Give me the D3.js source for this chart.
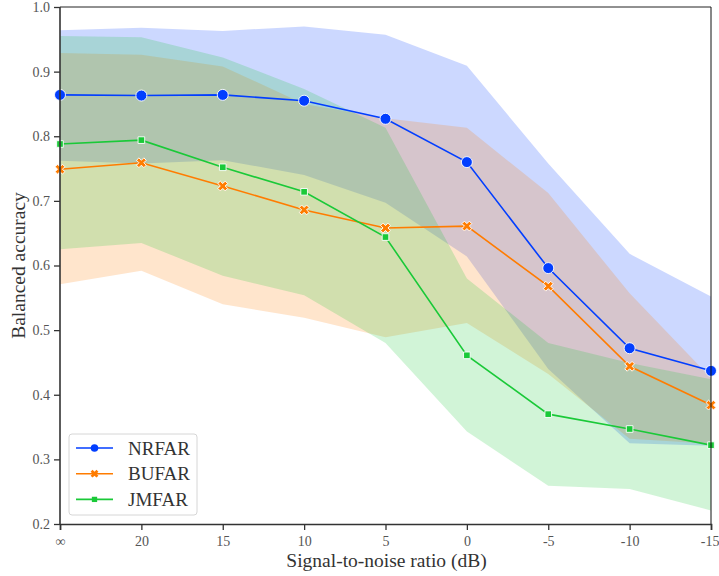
<!DOCTYPE html>
<html>
<head>
<meta charset="utf-8">
<script src="https://cdn.jsdelivr.net/npm/d3@7"></script>
<style>
  body { margin: 0; background: #fff; }
  svg { display: block; }
  text { font-family: "Liberation Serif", "DejaVu Serif", serif; }
</style>
</head>
<body>
<svg id="chart" width="719" height="576"></svg>
<script>
// SNR categories (x axis), left to right
const snr = ["∞", "20", "15", "10", "5", "0", "-5", "-10", "-15"];
const yTicks = [0.2, 0.3, 0.4, 0.5, 0.6, 0.7, 0.8, 0.9, 1.0];

// mean balanced accuracy and shaded band edges
const nrfarMean = [0.864, 0.863, 0.864, 0.855, 0.827, 0.760, 0.596, 0.472, 0.437];
const nrfarLow  = [0.762, 0.758, 0.763, 0.740, 0.697, 0.614, 0.440, 0.325, 0.321];
const nrfarHigh = [0.964, 0.968, 0.963, 0.970, 0.957, 0.909, 0.758, 0.618, 0.552];

const bufarMean = [0.749, 0.759, 0.723, 0.686, 0.658, 0.661, 0.568, 0.444, 0.384];
const bufarLow  = [0.571, 0.592, 0.540, 0.519, 0.489, 0.511, 0.432, 0.332, 0.324];
const bufarHigh = [0.929, 0.926, 0.908, 0.850, 0.828, 0.813, 0.712, 0.557, 0.426];

const jmfarMean = [0.788, 0.794, 0.752, 0.714, 0.644, 0.461, 0.370, 0.347, 0.322];
const jmfarLow  = [0.625, 0.635, 0.584, 0.554, 0.480, 0.343, 0.259, 0.254, 0.221];
const jmfarHigh = [0.955, 0.953, 0.922, 0.873, 0.813, 0.580, 0.480, 0.449, 0.424];

const seriesNames = ["NRFAR", "BUFAR", "JMFAR"];
const colors = ["#023eff", "#ff7c00", "#1ac938"];   // seaborn "bright"

const series = [
  { name: seriesNames[0], mean: nrfarMean, lo: nrfarLow, hi: nrfarHigh, color: colors[0], marker: "circle" },
  { name: seriesNames[1], mean: bufarMean, lo: bufarLow, hi: bufarHigh, color: colors[1], marker: "x" },
  { name: seriesNames[2], mean: jmfarMean, lo: jmfarLow, hi: jmfarHigh, color: colors[2], marker: "square" },
];

const svg = d3.select("#chart");
const m = { left: 60, right: 8, top: 7, bottom: 52 };
const W = 719, H = 576;

const x = d3.scalePoint().domain(snr).range([m.left, W - m.right]).padding(0);
const y = d3.scaleLinear().domain([0.2, 1.0]).range([H - m.bottom, m.top]);

// bands first (matplotlib puts fills under all lines)
const area = d3.area()
  .x((d, i) => x(snr[i]))
  .y0(d => y(d[0]))
  .y1(d => y(d[1]));

svg.append("g").attr("class", "bands")
  .selectAll("path")
  .data(series)
  .join("path")
  .attr("d", s => area(s.lo.map((v, i) => [v, s.hi[i]])))
  .attr("fill", s => s.color)
  .attr("fill-opacity", 0.2);

const line = d3.line().x((d, i) => x(snr[i])).y(d => y(d));

function markerPath(kind, big) {
  if (kind === "circle") return d3.symbol(d3.symbolCircle, big ? 95 : 45)();
  if (kind === "square") return d3.symbol(d3.symbolSquare, big ? 44 : 28)();
  return d3.symbol(d3.symbolCross, big ? 60 : 38)();
}

const lines = svg.append("g").attr("class", "lines");
series.forEach(s => {
  lines.append("path")
    .attr("d", line(s.mean))
    .attr("fill", "none")
    .attr("stroke", s.color)
    .attr("stroke-width", 1.6);
});
series.forEach(s => {
  lines.append("g")
    .selectAll("path")
    .data(s.mean)
    .join("path")
    .attr("d", markerPath(s.marker, true))
    .attr("transform", (d, i) => `translate(${x(snr[i])},${y(d)})` + (s.marker === "x" ? " rotate(45)" : ""))
    .attr("fill", s.color)
    .attr("stroke", "#fff")
    .attr("stroke-width", 0.9);
});

// frame: thin top/right, heavier left/bottom (spines sit above the lines)
svg.append("line").attr("x1", m.left).attr("x2", W - m.right).attr("y1", m.top).attr("y2", m.top)
  .attr("stroke", "#222").attr("stroke-width", 1);
svg.append("line").attr("x1", W - m.right).attr("x2", W - m.right).attr("y1", m.top).attr("y2", H - m.bottom)
  .attr("stroke", "#111").attr("stroke-width", 1);

// axes
const axisColor = "#333";
const gx = svg.append("g")
  .attr("transform", `translate(0,${H - m.bottom})`)
  .call(d3.axisBottom(x).tickSizeOuter(0).tickSize(6).tickPadding(6));
const gy = svg.append("g")
  .attr("transform", `translate(${m.left},0)`)
  .call(d3.axisLeft(y).tickValues(yTicks).tickFormat(d3.format(".1f")).tickSizeOuter(0).tickSize(6).tickPadding(4));

[gx, gy].forEach(g => {
  g.select(".domain").attr("stroke", axisColor).attr("stroke-width", 1.6);
  g.selectAll(".tick line").attr("stroke", axisColor).attr("stroke-width", 1.3);
  g.selectAll(".tick text")
    .attr("fill", "#555")
    .style("font-family", '"Liberation Serif", serif')
    .style("font-size", "14px");
});
gy.select(".domain").attr("d", `M0,${y(0.2)}V${y(1.0)}`);
// last label sits right at the page edge; nudge it in a hair
gx.selectAll(".tick text").filter(d => d === "-15").attr("text-anchor", "end").attr("dx", "8");

svg.append("text")
  .attr("x", (m.left + W - m.right) / 2 + 1)
  .attr("y", 567)
  .attr("text-anchor", "middle")
  .attr("fill", "#333")
  .style("font-size", "19.5px")
  .text("Signal-to-noise ratio (dB)");

svg.append("text")
  .attr("transform", `translate(25,${(m.top + H - m.bottom) / 2}) rotate(-90)`)
  .attr("text-anchor", "middle")
  .attr("fill", "#333")
  .style("font-size", "19.5px")
  .text("Balanced accuracy");

// legend
const lg = svg.append("g").attr("transform", "translate(69,434)");
lg.append("rect")
  .attr("width", 128).attr("height", 81)
  .attr("rx", 3)
  .attr("fill", "#fff").attr("fill-opacity", 0.8)
  .attr("stroke", "#d6d6d6").attr("stroke-width", 1);

const item = lg.selectAll("g.item")
  .data(series)
  .join("g")
  .attr("class", "item")
  .attr("transform", (d, i) => `translate(0,${14 + i * 25.7})`);

item.append("line")
  .attr("x1", 7).attr("x2", 44)
  .attr("stroke", d => d.color).attr("stroke-width", 1.6);
item.append("path")
  .attr("d", d => markerPath(d.marker, false))
  .attr("transform", d => "translate(25.5,0)" + (d.marker === "x" ? " rotate(45)" : ""))
  .attr("fill", d => d.color);
item.append("text")
  .attr("x", 59).attr("y", 6.5)
  .attr("fill", "#333")
  .style("font-size", "19px")
  .text(d => d.name);
</script>
</body>
</html>
